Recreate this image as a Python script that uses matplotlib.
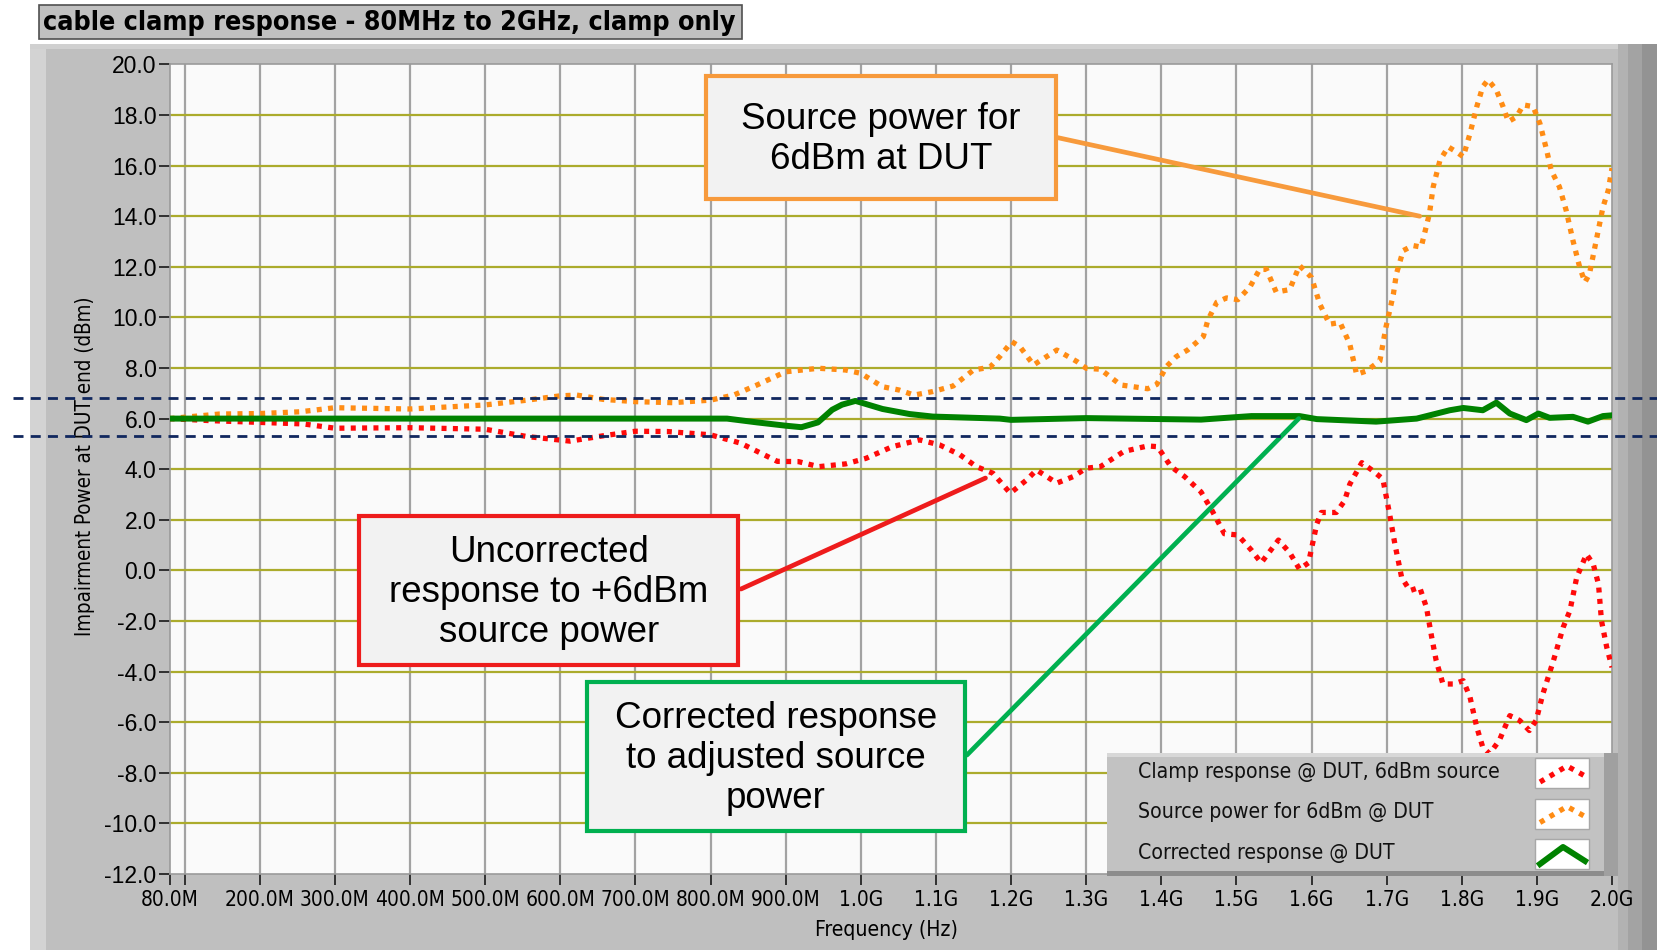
# cable clamp response plot, 80MHz - 2GHz, clamp only
import numpy as np
import matplotlib
matplotlib.use('Agg')
import matplotlib.pyplot as plt
import matplotlib.transforms as mtransforms
from matplotlib.patches import Rectangle
from matplotlib.lines import Line2D
from matplotlib import font_manager
from matplotlib.font_manager import FontProperties

# data (frequency in MHz, level in dBm)
red_f = [80, 134, 200, 258, 300, 400, 500, 556, 613, 657, 700, 742, 800, 840, 889,
         917, 944, 980, 1007, 1042, 1078, 1105, 1132, 1154, 1176, 1199, 1221, 1234,
         1261, 1283, 1300, 1319, 1350, 1382, 1395, 1413, 1431, 1453, 1467, 1484, 1502,
         1520, 1533, 1556, 1571, 1584, 1596, 1607, 1613, 1633, 1644, 1651, 1667, 1682,
         1695, 1704, 1711, 1720, 1731, 1744, 1753, 1760, 1766, 1775, 1789, 1802, 1811,
         1820, 1828, 1837, 1850, 1864, 1877, 1890, 1899, 1908, 1922, 1935, 1944, 1953,
         1966, 1975, 1982, 1986, 1993, 2000]
red_db = [6.0, 5.92, 5.85, 5.79, 5.62, 5.64, 5.58, 5.29, 5.11, 5.32, 5.5, 5.49, 5.36, 5.03, 4.31,
          4.3, 4.1, 4.21, 4.43, 4.89, 5.16, 4.96, 4.57, 4.1, 3.84, 3.05, 3.58, 3.97,
          3.45, 3.71, 4.04, 4.1, 4.7, 4.92, 4.89, 4.1, 3.71, 3.1, 2.4, 1.45, 1.4,
          0.8, 0.3, 1.2, 0.7, 0.05, 0.3, 1.83, 2.29, 2.29, 2.75, 3.41, 4.26, 3.93,
          3.61, 2.22, 1.04, -0.28, -0.8, -0.67, -1.46, -2.64, -3.57, -4.49, -4.49, -4.36, -5.01,
          -6.2, -6.99, -7.25, -6.72, -5.74, -5.93, -6.33, -5.93, -4.88, -3.57, -2.25, -1.59, -0.28,
          0.64, 0.25, -0.54, -1.99, -3.04, -3.83]

orange_f = [80, 146, 200, 254, 300, 400, 500, 556, 600, 622, 657, 700, 750, 800, 831,
            862, 900, 944, 980, 1000, 1029, 1051, 1071, 1096, 1123, 1150, 1172, 1185, 1201,
            1212, 1230, 1261, 1288, 1300, 1319, 1346, 1382, 1394, 1407, 1420, 1435, 1456,
            1462, 1474, 1487, 1502, 1518, 1531, 1540, 1553, 1571, 1584, 1600, 1611, 1624,
            1638, 1651, 1660, 1673, 1691, 1699, 1709, 1713, 1722, 1735, 1746, 1757, 1762,
            1771, 1782, 1793, 1802, 1811, 1820, 1828, 1835, 1846, 1855, 1862, 1873, 1882,
            1895, 1904, 1913, 1919, 1930, 1939, 1948, 1957, 1964, 1970, 1979, 1988, 1995, 2000]
orange_db = [6.0, 6.18, 6.2, 6.27, 6.43, 6.38, 6.54, 6.73, 6.9, 6.93, 6.76, 6.67, 6.63, 6.73, 6.93,
             7.33, 7.85, 7.99, 7.92, 7.79, 7.26, 7.13, 6.93, 7.07, 7.29, 7.92, 8.03, 8.45, 9.04,
             8.84, 8.12, 8.71, 8.25, 7.99, 7.95, 7.33, 7.18, 7.35, 8.06, 8.45, 8.71, 9.24,
             9.89, 10.6, 10.77, 10.7, 11.2, 11.9, 11.9, 11.0, 11.1, 12.05, 11.58, 10.53, 9.73,
             9.8, 8.94, 7.75, 7.88, 8.28, 9.6, 10.92, 11.72, 12.64, 12.84, 12.78, 14.1, 15.16,
             16.21, 16.74, 16.54, 16.35, 17.27, 18.33, 19.12, 19.39, 18.99, 18.33, 17.74, 17.93, 18.4,
             18.33, 17.67, 16.61, 15.82, 15.16, 14.23, 13.04, 11.98, 11.39, 11.72, 13.04, 14.36, 15.02, 15.9]

green_f = [80, 400, 822, 862, 900, 921, 943, 962, 975, 993, 1029, 1065, 1096, 1185, 1200,
           1300, 1453, 1520, 1584, 1607, 1686, 1740, 1784, 1802, 1828, 1846, 1864, 1886,
           1902, 1917, 1948, 1968, 1988, 2000]
green_db = [6.0, 6.0, 6.0, 5.85, 5.72, 5.66, 5.85, 6.35, 6.55, 6.7, 6.38, 6.18, 6.08, 6.0, 5.95,
            6.02, 5.96, 6.1, 6.1, 5.98, 5.88, 6.0, 6.33, 6.42, 6.33, 6.63, 6.2, 5.94,
            6.2, 6.03, 6.07, 5.88, 6.1, 6.13]

legend_labels = ['Clamp response @ DUT, 6dBm source', 'Source power for 6dBm @ DUT',
                 'Corrected response @ DUT']

W, H = 1658, 950

def fx(px):
    return px / W

def fy(py):
    return 1 - py / H

# look for any condensed / narrow sans face, otherwise fall back to Liberation Sans
def find_narrow(bold=False):
    for f in font_manager.fontManager.ttflist:
        n = f.fname.lower()
        if ('narrow' in n or 'condensed' in n) and 'sans' in n \
                and 'oblique' not in n and 'italic' not in n:
            if ('bold' in n) == bold:
                return f.fname
    return None

narrow_path = find_narrow()
narrow_bold_path = find_narrow(True)

def nfont(size, bold=False):
    path = narrow_bold_path if bold else narrow_path
    if path:
        return FontProperties(fname=path, size=size)
    # wide fallback needs a smaller size to keep the same width
    return FontProperties(family='Liberation Sans', size=size * 0.88,
                          weight='bold' if bold else 'normal')

wide = 'Liberation Sans'

fig = plt.figure(figsize=(W / 100, H / 100), dpi=100, facecolor='white')

def frect(x0, y0, x1, y1, **kw):
    r = Rectangle((fx(x0), fy(y1)), (x1 - x0) / W, (y1 - y0) / H,
                  transform=fig.transFigure, **kw)
    fig.add_artist(r)
    return r

# gray front panel
frect(30, 44, 1658, 950, fc='#bfbfbf', ec='none', zorder=-10)
frect(30, 44, 46, 950, fc='#d3d3d3', ec='none', zorder=-9)
frect(30, 44, 1658, 49, fc='#d0d0d0', ec='none', zorder=-9)
frect(1618, 44, 1628, 950, fc='#b2b2b2', ec='none', zorder=-9)
frect(1628, 44, 1642, 950, fc='#a3a3a3', ec='none', zorder=-9)
frect(1642, 44, 1658, 950, fc='#939393', ec='none', zorder=-9)

# title box
frect(39, 5, 742, 39, fc='#c0c0c0', ec='#505050', lw=1.2, zorder=2)
fig.text(fx(43), fy(22.5), 'cable clamp response - 80MHz to 2GHz, clamp only',
         ha='left', va='center', fontproperties=nfont(19.3, bold=True), zorder=3)

ax = fig.add_axes([fx(169.6), fy(874), (1612 - 169.6) / W, (874 - 64.4) / H])
ax.set_facecolor('#fafafa')
ax.set_xlim(80, 2000)
ax.set_ylim(-12, 20)

for v in range(100, 2000, 100):
    ax.axvline(v, color='#a2a2a2', lw=1.6, zorder=0.5)
for v in range(-10, 20, 2):
    ax.axhline(v, color='#abab2c', lw=1.6, zorder=0.6)

xt = [80, 100] + list(range(200, 2001, 100))
xl = []
for v in xt:
    if v == 100:
        xl.append('')
    elif v < 1000:
        xl.append(f'{v:.1f}M')
    else:
        xl.append(f'{v / 1000:.1f}G')
ax.set_xticks(xt, xl)
yt = np.arange(-12, 21, 2)
ax.set_yticks(yt, [f'{v:.1f}' for v in yt])
ax.tick_params(axis='x', direction='out', length=8, width=1.4, color='#303030', pad=3.5)
ax.tick_params(axis='y', direction='out', length=8, width=1.4, color='#303030', pad=1.5)
for lab in ax.get_xticklabels():
    lab.set_fontproperties(nfont(15))
for lab in ax.get_yticklabels():
    lab.set_family(wide)
    lab.set_fontsize(16.5)
for s in ax.spines.values():
    s.set_color('#9a9a9a')
    s.set_linewidth(1.2)

dots = (0, (0.95, 1.2))
ax.plot(red_f, red_db, color='#ff0a0a', lw=3.8, ls=dots, dash_capstyle='butt', zorder=3)
ax.plot(orange_f, orange_db, color='#ff8c14', lw=3.8, ls=dots, dash_capstyle='butt', zorder=3)
ax.plot(green_f, green_db, color='#008200', lw=4.3, zorder=4, solid_joinstyle='round')

# axis titles
fig.text(fx(85), fy(466), 'Impairment Power at DUT end (dBm)', rotation=90,
         ha='center', va='center', fontproperties=nfont(14.8))
fig.text(fx(886), fy(930), 'Frequency (Hz)', ha='center', va='center',
         fontproperties=nfont(15.2))

# legend
frect(1107, 753, 1618, 876, fc='#c2c2c2', ec='none', zorder=5)
frect(1107, 753, 1618, 757, fc='#d8d8d8', ec='none', zorder=5)
frect(1107, 871, 1618, 876, fc='#8c8c8c', ec='none', zorder=5)
frect(1604, 753, 1618, 876, fc='#a0a0a0', ec='none', zorder=5)
leg_colors = ['#ff0a0a', '#ff8c14', '#008200']
for i, (lab, col) in enumerate(zip(legend_labels, leg_colors)):
    yc = 772 + i * 40.5
    fig.text(fx(1138), fy(yc), lab, ha='left', va='center', fontproperties=nfont(15.2),
             color='#111111', zorder=6)
    frect(1535, yc - 14, 1589, yc + 16, fc='white', ec='#a8a8a8', lw=1, zorder=6)
    if i < 2:
        sw = Line2D([fx(1540), fx(1567), fx(1585)], [fy(yc + 10), fy(yc - 6), fy(yc + 4)],
                    transform=fig.transFigure, color=col, lw=3.8, ls=dots,
                    dash_capstyle='butt', zorder=7)
    else:
        sw = Line2D([fx(1540), fx(1563), fx(1585)], [fy(yc + 11), fy(yc - 6), fy(yc + 8)],
                    transform=fig.transFigure, color=col, lw=4.3, zorder=7)
    fig.add_artist(sw)

# navy tolerance lines across the whole panel
blend = mtransforms.blended_transform_factory(fig.transFigure, ax.transData)
for lvl in (6.8, 5.3):
    fig.add_artist(Line2D([fx(13), 1.0], [lvl, lvl], transform=blend, color='#10275e',
                          lw=2, ls=(0, (3.6, 2.6)), zorder=20))

# callout boxes
boxes = [
    ((706, 76, 1056, 199), 'Source power for\n6dBm at DUT', '#f79a3c', (1057, 137.5), (1744, 14.0)),
    ((359.5, 516, 738, 665), 'Uncorrected\nresponse to +6dBm\nsource power', '#ee1c1c', (741, 589), (1166, 3.65)),
    ((587, 682, 965, 831), 'Corrected response\nto adjusted source\npower', '#00b050', (967, 755), (1583, 6.0)),
]
for (x0, y0, x1, y1), txt, col, start, end in boxes:
    frect(x0, y0, x1, y1, fc='#f2f2f2', ec=col, lw=3, zorder=10)
    fig.text(fx((x0 + x1) / 2), fy((y0 + y1) / 2 + 2), txt, ha='center', va='center',
             family=wide, fontsize=26.5, linespacing=1.2, zorder=11)
    ax.annotate('', xy=end, xycoords='data', xytext=(fx(start[0]), fy(start[1])),
                textcoords='figure fraction', annotation_clip=False, zorder=8,
                arrowprops=dict(arrowstyle='-', color=col, lw=3.4, shrinkA=0, shrinkB=0))

fig.savefig('out.png', dpi=100, facecolor=fig.get_facecolor())
